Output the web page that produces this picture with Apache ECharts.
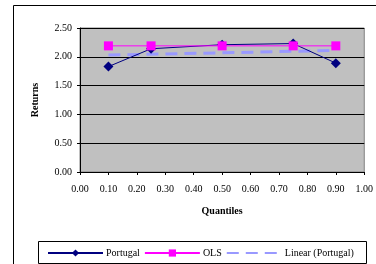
<!DOCTYPE html>
<html>
<head>
<meta charset="utf-8">
<script src="https://cdn.jsdelivr.net/npm/echarts@6/dist/echarts.min.js"></script>
<style>
html, body { margin: 0; padding: 0; background: #fff; }
#chart { width: 376px; height: 264px; }
</style>
</head>
<body>
<div id="chart"></div>
<script>
// values
var quantiles = [0.10, 0.25, 0.50, 0.75, 0.90];
var portugal = [1.83, 2.14, 2.21, 2.23, 1.89];
var ols = [2.19, 2.19, 2.19, 2.19, 2.19];
var trendX = [0.10, 0.90];
var trendY = [2.03, 2.11];

function pairs(xs, ys) {
	var out = [];
	for (var i = 0; i < xs.length; i++) {
		out.push([xs[i], ys[i]]);
	}
	return out;
}

var font = '"Liberation Serif", "Times New Roman", serif';
var chart = echarts.init(document.getElementById('chart'));

var option = {
	animation: false,
	textStyle: { fontFamily: font, color: '#000' },
	graphic: [{
		type: 'rect',
		shape: { x: 13.5, y: 5.5, width: 420, height: 320 },
		style: { fill: 'none', stroke: '#000', lineWidth: 1 },
		z: -10
	}, {
		type: 'rect',
		shape: { x: 38.5, y: 241.5, width: 328, height: 22 },
		style: { fill: '#fff', stroke: '#000', lineWidth: 1 },
		z: -5
	}],
	grid: {
		left: 80, right: 7, top: 28, bottom: 92,
		show: true,
		backgroundColor: '#c0c0c0',
		borderColor: '#808080',
		borderWidth: 1
	},
	legend: {
		left: 42, top: 243,
		itemWidth: 55, itemHeight: 9, itemGap: 4,
		textStyle: { fontFamily: font, fontSize: 10, color: '#000', padding: [0, 0, 0, -2] },
		data: ['Portugal', 'OLS', { name: 'Linear (Portugal)', itemStyle: { opacity: 0 } }]
	},
	xAxis: {
		type: 'value',
		min: 0, max: 1, interval: 0.1,
		name: 'Quantiles',
		nameLocation: 'middle',
		nameGap: 34,
		nameTextStyle: { fontFamily: font, fontSize: 10, fontWeight: 'bold', color: '#000' },
		axisLine: { lineStyle: { color: '#000' } },
		axisTick: { show: true, length: 3, lineStyle: { color: '#000' } },
		axisLabel: {
			fontSize: 10, color: '#000', margin: 12,
			formatter: function (v) { return v.toFixed(2); }
		},
		splitLine: { show: false }
	},
	yAxis: {
		type: 'value',
		min: 0, max: 2.5, interval: 0.5,
		name: 'Returns',
		nameLocation: 'middle',
		nameGap: 40,
		nameTextStyle: { fontFamily: font, fontSize: 10, fontWeight: 'bold', color: '#000' },
		axisLine: { show: true, lineStyle: { color: '#000' } },
		axisTick: { show: true, length: 3, lineStyle: { color: '#000' } },
		axisLabel: {
			fontSize: 10, color: '#000', margin: 8,
			formatter: function (v) { return v.toFixed(2); }
		},
		splitLine: { show: true, lineStyle: { color: '#000', width: 1 } }
	},
	series: [{
		name: 'Portugal',
		type: 'line',
		data: pairs(quantiles, portugal),
		symbol: 'diamond',
		symbolSize: 10,
		color: '#000080',
		lineStyle: { color: '#000080', width: 1 },
		itemStyle: { color: '#000080' },
		z: 3
	}, {
		name: 'OLS',
		type: 'line',
		data: pairs(quantiles, ols),
		symbol: 'rect',
		symbolSize: 9,
		color: '#ff00ff',
		lineStyle: { color: '#ff00ff', width: 1 },
		itemStyle: { color: '#ff00ff' },
		z: 4
	}, {
		name: 'Linear (Portugal)',
		type: 'line',
		data: pairs(trendX, trendY),
		symbol: 'none',
		color: '#9999ff',
		lineStyle: { color: '#9999ff', width: 3, type: [12, 7] },
		z: 2
	}]
};

chart.setOption(option);
</script>
</body>
</html>
